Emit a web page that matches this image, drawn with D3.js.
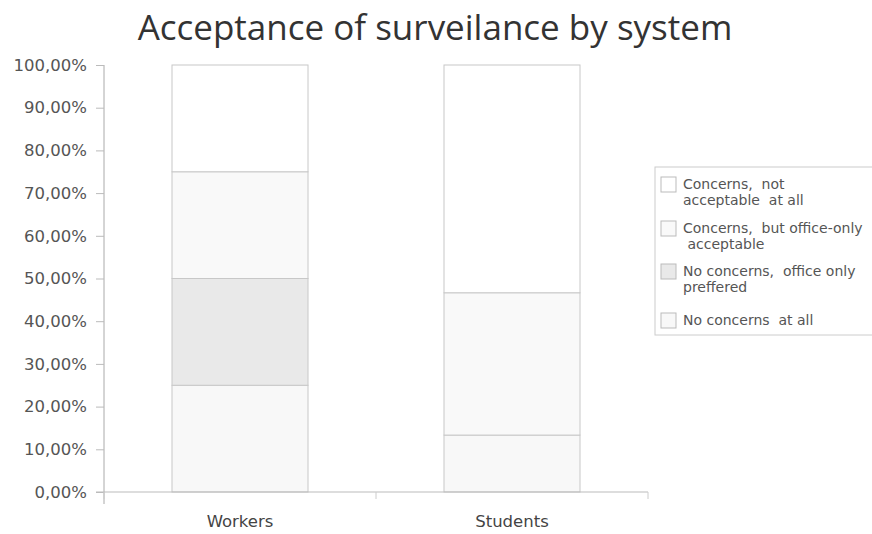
<!DOCTYPE html>
<html>
<head>
<meta charset="utf-8">
<script src="https://cdn.jsdelivr.net/npm/d3@7"></script>
<style>
  body { margin: 0; background: #fff; }
  text { font-family: "DejaVu Sans", sans-serif; }
</style>
</head>
<body>
<div id="chart"></div>
<script>
// data (share of respondents, %)
const groups = ["Workers", "Students"]
const seriesNames = [
  "No concerns  at all",
  "No concerns,  office only preffered",
  "Concerns,  but office-only acceptable",
  "Concerns,  not acceptable  at all"
]
const noConcerns = [25, 13.33]
const officePreferred = [25, 0]
const officeAcceptable = [25, 33.33]
const notAcceptable = [25, 53.34]
const yTicks = [0, 10, 20, 30, 40, 50, 60, 70, 80, 90, 100]

// legend text as it wraps in the picture (top item first)
const legendLines = [
  ["Concerns,  not", "acceptable  at all"],
  ["Concerns,  but office-only", " acceptable"],
  ["No concerns,  office only", "preffered"],
  ["No concerns  at all"]
]

const fills = ["#f8f8f8", "#e9e9e9", "#f9f9f9", "#ffffff"]

var width = 872, height = 534
var margin = {top: 65, right: 224, bottom: 42, left: 104}

var svg = d3.select("#chart").append("svg")
  .attr("width", width)
  .attr("height", height)

var rows = groups.map((g, i) => ({
  group: g,
  [seriesNames[0]]: noConcerns[i],
  [seriesNames[1]]: officePreferred[i],
  [seriesNames[2]]: officeAcceptable[i],
  [seriesNames[3]]: notAcceptable[i]
}))

var stacked = d3.stack().keys(seriesNames)(rows)

var x = d3.scaleBand()
  .domain(groups)
  .range([margin.left, width - margin.right])
  .paddingInner(0.5)
  .paddingOuter(0.25)

var y = d3.scaleLinear()
  .domain([0, 100])
  .range([height - margin.bottom, margin.top])

var color = d3.scaleOrdinal().domain(seriesNames).range(fills)

// title
svg.append("text")
  .attr("x", 435)
  .attr("y", 40)
  .attr("text-anchor", "middle")
  .style("font-family", "'Open Sans', sans-serif")
  .style("font-size", "35px")
  .style("fill", "#333")
  .text("Acceptance of surveilance by system")

// bars
svg.append("g").selectAll("g")
  .data(stacked)
  .enter().append("g")
  .attr("fill", d => color(d.key))
  .selectAll("rect")
  .data(d => d.filter(s => s[1] - s[0] > 0))
  .enter().append("rect")
  .attr("x", d => x(d.data.group))
  .attr("y", d => y(d[1]))
  .attr("width", x.bandwidth())
  .attr("height", d => y(d[0]) - y(d[1]))
  .attr("stroke", "#c8c8c8")
  .attr("stroke-width", 1)

// y axis
var yAxis = svg.append("g")
  .attr("transform", "translate(" + margin.left + ",0)")
  .call(d3.axisLeft(y)
    .tickValues(yTicks)
    .tickSize(8)
    .tickFormat(d => d3.format(".2f")(d).replace(".", ",") + "%"))
yAxis.select(".domain").attr("stroke", "#aaa").attr("d", "M0," + y(100) + "V" + (y(0) + 12))
yAxis.selectAll(".tick line").attr("stroke", "#bbb")
yAxis.selectAll(".tick text")
  .attr("x", -17)
  .style("font-size", "16.5px")
  .style("fill", "#555")
  .style("font-family", "'DejaVu Sans', sans-serif")

// x axis with ticks at category boundaries
var bounds = [margin.left, (x("Workers") + x.bandwidth() + x("Students")) / 2, width - margin.right]
var xg = svg.append("g").attr("transform", "translate(0," + y(0) + ")")
xg.append("line")
  .attr("x1", margin.left - 8).attr("x2", width - margin.right)
  .attr("stroke", "#bbb")
xg.selectAll(".tk").data(bounds).enter().append("line")
  .attr("x1", d => d).attr("x2", d => d)
  .attr("y1", 0).attr("y2", 7)
  .attr("stroke", "#ccc")
xg.selectAll(".lbl").data(groups).enter().append("text")
  .attr("x", d => x(d) + x.bandwidth() / 2)
  .attr("y", 35)
  .attr("text-anchor", "middle")
  .style("font-size", "16.5px")
  .style("fill", "#444")
  .text(d => d)

// legend
var lg = svg.append("g").attr("transform", "translate(655,167)")
lg.append("rect")
  .attr("width", 230).attr("height", 168)
  .attr("fill", "#fff").attr("stroke", "#ccc")

var itemTop = [10, 54, 97, 146]
var item = lg.selectAll(".item")
  .data(legendLines)
  .enter().append("g")
  .attr("transform", (d, i) => "translate(0," + itemTop[i] + ")")

item.append("rect")
  .attr("x", 6).attr("y", 0)
  .attr("width", 15).attr("height", 15)
  .attr("fill", (d, i) => fills[3 - i])
  .attr("stroke", "#bbb")

item.selectAll("text")
  .data(d => d)
  .enter().append("text")
  .attr("x", 28)
  .attr("y", (d, j) => 12 + j * 16)
  .style("font-size", "14px")
  .style("fill", "#555")
  .style("white-space", "pre")
  .text(d => d)
</script>
</body>
</html>
